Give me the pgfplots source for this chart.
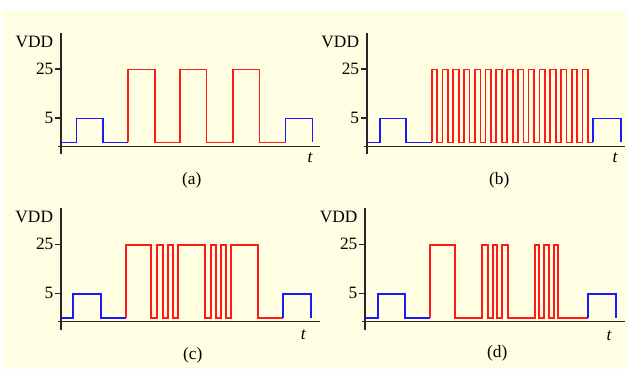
\documentclass[border=0pt]{standalone}
\usepackage{fontspec}
\setmainfont{Liberation Serif}
\usepackage{pgfplots}
\pgfplotsset{compat=1.18}
\definecolor{cream}{RGB}{255,253,226}
\definecolor{vblue}{RGB}{25,25,255}
\definecolor{vred}{RGB}{255,25,25}
\newcommand\fs{\fontsize{13}{15}\selectfont}
\pgfplotsset{
  vddaxis/.style={
    x=0.75pt, y=0.75pt,
    axis lines=middle,
    axis line style={-, line width=1.2pt, black!85},
    xmin=-3, xmax=259, ymin=-8, ymax=113.5,
    xtick=\empty,
    ytick={28.5,77.5}, yticklabels={5,25},
    tick align=outside,
    major tick length=4.5pt,
    tick style={line width=1pt, black!85},
    /pgf/number format/assume math mode=true,
    yticklabel style={font=\fs, inner sep=1pt},
    clip=false,
    anchor=origin,
    every axis plot/.append style={line width=1.3pt, mark=none, line join=miter},
  },
}
\begin{document}
\begin{tikzpicture}[x=0.75pt,y=0.75pt]
\fill[white] (0,0) rectangle (631,378);
\fill[cream] (3,9) rectangle (627,368);
\coordinate (oa) at (61,231.5);
\coordinate (ob) at (366.7,231.5);
\coordinate (oc) at (61,56.3);
\coordinate (od) at (365,56.3);

% (a)
\begin{axis}[vddaxis, at={(oa)}]
\addplot[vblue] coordinates {(0,4) (15.5,4) (15.5,28) (42,28) (42,4) (67,4)};
\addplot[vred] coordinates {(67,4) (67,77) (94,77) (94,4) (119,4) (119,77) (145.5,77) (145.5,4) (172,4) (172,77) (198.5,77) (198.5,4) (224.5,4)};
\addplot[vblue] coordinates {(224.5,4) (224.5,28) (251.5,28) (251.5,4)};
\node[anchor=east, inner sep=0, font=\fs] at (axis cs:-7.5,104.8) {VDD};
\node[inner sep=0, font=\fs\itshape] at (axis cs:249,-11.5) {t};
\node[inner sep=0, font=\fs] at (axis cs:130.7,-33.5) {(a)};
\end{axis}

% (b)
\begin{axis}[vddaxis, at={(ob)}, xmax=258]
\addplot[vblue] coordinates {(0,4) (13,4) (13,28) (39.3,28) (39.3,4) (65,4)};
\addplot[vred] coordinates {(65,4)
 (65.0,77) (70.6,77) (70.6,4) (75.8,4) (75.8,77) (81.4,77) (81.4,4)
 (86.5,4) (86.5,77) (92.1,77) (92.1,4) (97.3,4) (97.3,77) (102.9,77) (102.9,4)
 (108.1,4) (108.1,77) (113.7,77) (113.7,4) (118.9,4) (118.9,77) (124.5,77) (124.5,4)
 (129.6,4) (129.6,77) (135.2,77) (135.2,4) (140.4,4) (140.4,77) (146.0,77) (146.0,4)
 (151.2,4) (151.2,77) (156.8,77) (156.8,4) (161.9,4) (161.9,77) (167.5,77) (167.5,4)
 (172.7,4) (172.7,77) (178.3,77) (178.3,4) (183.5,4) (183.5,77) (189.1,77) (189.1,4)
 (194.2,4) (194.2,77) (199.8,77) (199.8,4) (205.0,4) (205.0,77) (210.6,77) (210.6,4)
 (215.8,4) (215.8,77) (221.4,77) (221.4,4) (226.6,4)};
\addplot[vblue] coordinates {(226.6,4) (226.6,28) (254,28) (254,4)};
\node[anchor=east, inner sep=0, font=\fs] at (axis cs:-7.4,104.8) {VDD};
\node[inner sep=0, font=\fs\itshape] at (axis cs:248.3,-11.5) {t};
\node[inner sep=0, font=\fs] at (axis cs:132.6,-33.5) {(b)};
\end{axis}

% (c)
\begin{axis}[vddaxis, at={(oc)}]
\addplot[vblue] coordinates {(0,4) (12.3,4) (12.3,28) (39.7,28) (39.7,4) (64.7,4)};
\addplot[vred] coordinates {(64.7,4) (64.7,77) (89.7,77) (89.7,4) (96.3,4) (96.3,77) (101.7,77) (101.7,4)
 (107,4) (107,77) (112.3,77) (112.3,4) (116.7,4) (116.7,77) (144,77) (144,4)
 (149.7,4) (149.7,77) (154.7,77) (154.7,4) (160,4) (160,77) (165,77) (165,4)
 (170,4) (170,77) (196.7,77) (196.7,4) (222.3,4)};
\addplot[vblue] coordinates {(222.3,4) (222.3,28) (250,28) (250,4)};
\node[anchor=east, inner sep=0, font=\fs] at (axis cs:-7.7,104.4) {VDD};
\node[inner sep=0, font=\fs\itshape] at (axis cs:242.3,-13) {t};
\node[inner sep=0, font=\fs] at (axis cs:131.7,-33.3) {(c)};
\end{axis}

% (d)
\begin{axis}[vddaxis, at={(od)}, xmax=260]
\addplot[vblue] coordinates {(0,4) (13.3,4) (13.3,28) (40,28) (40,4) (65,4)};
\addplot[vred] coordinates {(65,4) (65,77) (90.3,77) (90.3,4) (117,4) (117,77) (123,77) (123,4)
 (127.7,4) (127.7,77) (132.3,77) (132.3,4) (137.3,4) (137.3,77) (143.3,77) (143.3,4)
 (170.3,4) (170.3,77) (174.3,77) (174.3,4) (179.3,4) (179.3,77) (184.3,77) (184.3,4)
 (189,4) (189,77) (193.3,77) (193.3,4) (223.3,4)};
\addplot[vblue] coordinates {(223.3,4) (223.3,28) (251,28) (251,4)};
\node[anchor=east, inner sep=0, font=\fs] at (axis cs:-7.3,104.4) {VDD};
\node[inner sep=0, font=\fs\itshape] at (axis cs:244,-14) {t};
\node[inner sep=0, font=\fs] at (axis cs:132.3,-31.6) {(d)};
\end{axis}
\end{tikzpicture}
\end{document}
